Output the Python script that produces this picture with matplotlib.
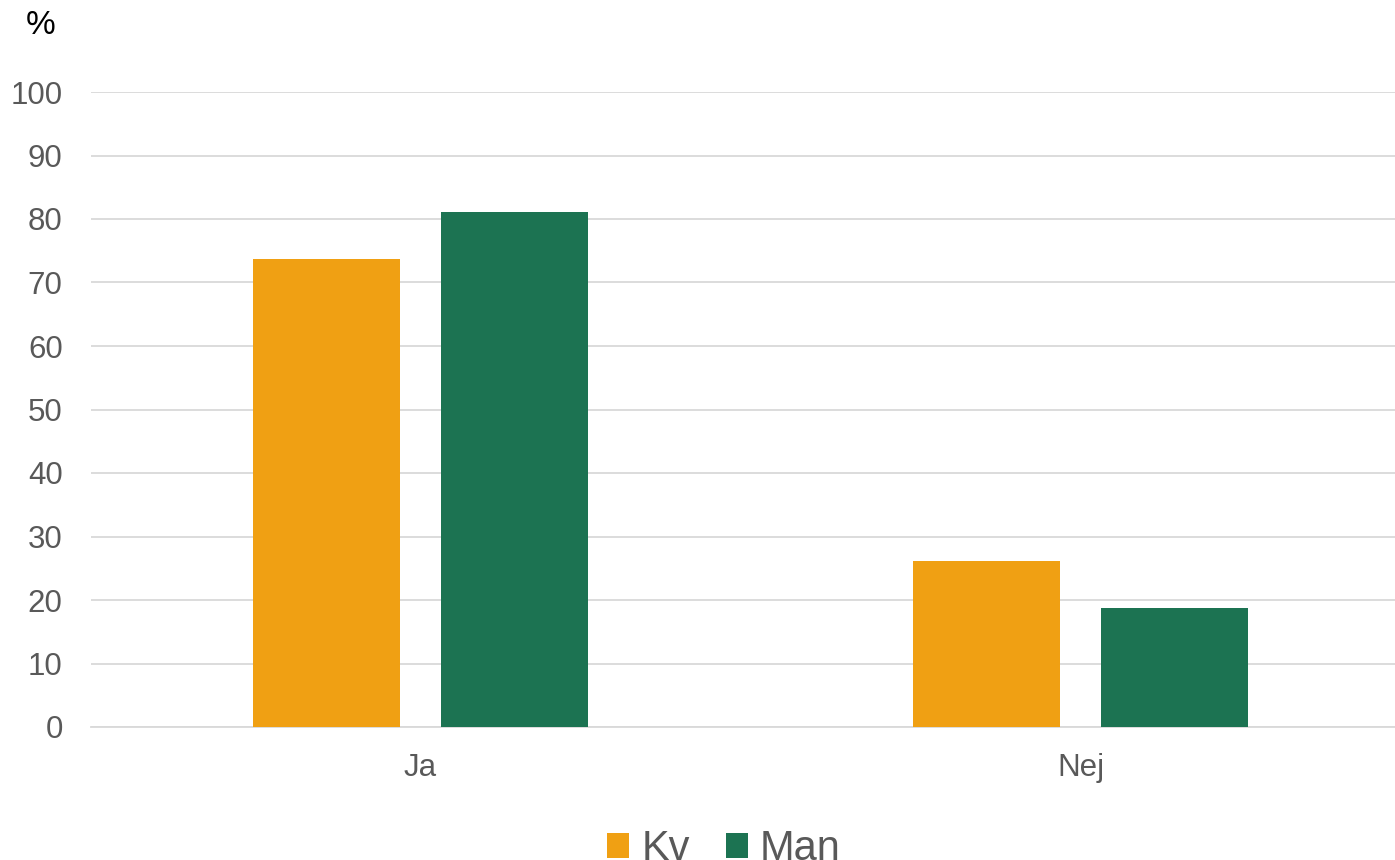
import matplotlib
matplotlib.use("Agg")
import matplotlib.pyplot as plt
from matplotlib.patches import Patch
import numpy as np

plt.rcParams['font.family'] = ['Liberation Sans', 'DejaVu Sans']

categories = ["Ja", "Nej"]
series_names = ["Kv", "Man"]
kv_values = [73.7, 26.1]
man_values = [81.1, 18.7]
yticks = [0, 10, 20, 30, 40, 50, 60, 70, 80, 90, 100]

colors = ["#F0A013", "#1C7352"]

W, H = 1395, 860
fig = plt.figure(figsize=(W / 100, H / 100), dpi=100)
ax = fig.add_axes([90.5 / W, 133 / H, 1320 / W, 635 / H])

x = np.arange(len(categories))
bw = 147 / 660
off = 94 / 660
ax.bar(x - off, kv_values, width=bw, color=colors[0], zorder=3)
ax.bar(x + off, man_values, width=bw, color=colors[1], zorder=3)

ax.set_xlim(-0.5, 1.5)
ax.set_ylim(0, 100)
ax.set_yticks(yticks)
ax.set_xticks(x)
ax.set_xticklabels(categories)
ax.yaxis.grid(True, color="#D9D9D9", linewidth=1.3, zorder=0)
ax.set_axisbelow(True)
for s in ["top", "right", "left"]:
    ax.spines[s].set_visible(False)
ax.spines["bottom"].set_color("#D9D9D9")
ax.spines["bottom"].set_linewidth(1.3)
ax.tick_params(axis="both", length=0, labelsize=22.5, labelcolor="#595959")
ax.tick_params(axis="y", pad=20)
ax.tick_params(axis="x", pad=19)

fig.text(41 / W, 1 - 25 / H, "%", fontsize=24, color="black", ha="center", va="center")

handles = [Patch(facecolor=c, edgecolor="none") for c in colors]
fig.legend(handles, series_names, loc="center", bbox_to_anchor=(724 / W, 1 - 849 / H),
           ncol=2, frameon=False, fontsize=30, labelcolor="#595959",
           handlelength=0.53, handleheight=0.53, handletextpad=0.3, columnspacing=0.85)

fig.savefig("out.png", dpi=100)
